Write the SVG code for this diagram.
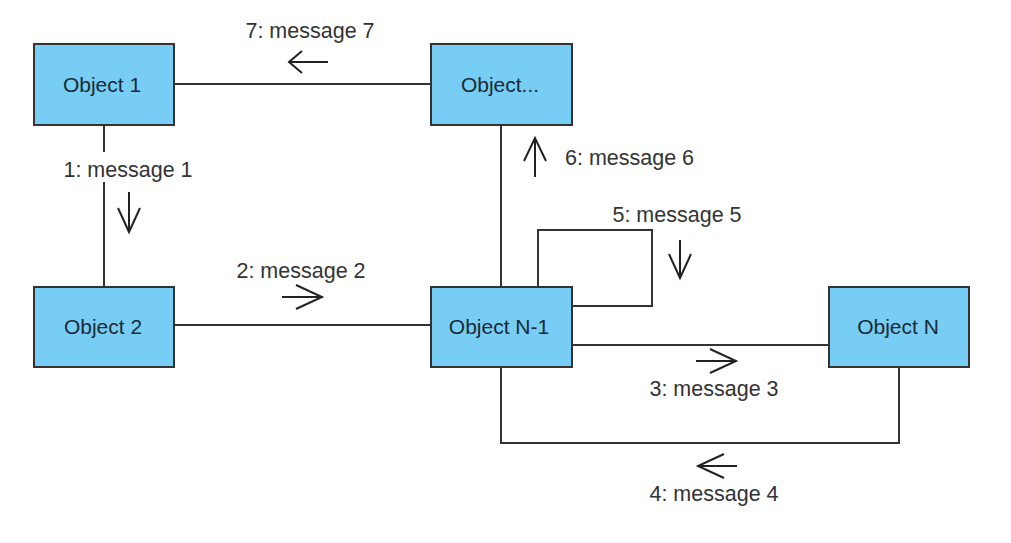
<svg xmlns="http://www.w3.org/2000/svg" width="1011" height="543" viewBox="0 0 1011 543">
<style>
.box{fill:#77CDF3;stroke:#333;stroke-width:2}
.bt{font-family:"Liberation Sans",Arial,sans-serif;font-size:21px;fill:#1a2a36;text-anchor:middle}
.lb{font-family:"Liberation Sans",Arial,sans-serif;font-size:21.5px;fill:#333}
.ln{fill:none;stroke:#333;stroke-width:2}
.ar{fill:none;stroke:#222;stroke-width:2}
</style>
<rect width="1011" height="543" fill="#fff"/>
<g id="connectors">
<path class="ln" d="M174,84 H431"/>
<path class="ln" d="M104,125 V152 M104,182 V287"/>
<path class="ln" d="M174,325 H431"/>
<path class="ln" d="M501,125 V287"/>
<path class="ln" d="M538,287 V230 H652 V306 H572"/>
<path class="ln" d="M572,345 H829"/>
<path class="ln" d="M501,367 V443 H899 V367"/>
<path class="ar" d="M328,62 H289 M302,51 L289,62 L302,73"/>
<path class="ar" d="M129,192 V232 M118,208 L129,232 L140,208"/>
<path class="ar" d="M282,297 H322 M296,285 L322,297 L296,309"/>
<path class="ar" d="M535,177 V138 M524,161 L535,138 L546,161"/>
<path class="ar" d="M680,240 V278 M669,254 L680,278 L691,254"/>
<path class="ar" d="M696,361 H736 M710,349 L736,361 L710,373"/>
<path class="ar" d="M737,466 H698 M724,454 L698,466 L724,478"/>
<text class="lb" x="310" y="38" text-anchor="middle">7: message 7</text>
<text class="lb" x="128" y="177" text-anchor="middle">1: message 1</text>
<text class="lb" x="301" y="278" text-anchor="middle">2: message 2</text>
<text class="lb" x="565" y="165">6: message 6</text>
<text class="lb" x="677" y="222" text-anchor="middle">5: message 5</text>
<text class="lb" x="714" y="396" text-anchor="middle">3: message 3</text>
<text class="lb" x="714" y="501" text-anchor="middle">4: message 4</text>
</g>
<g id="object1"><rect class="box" x="34" y="44" width="140" height="81"/><text class="bt" x="102" y="92">Object 1</text></g>
<g id="objectDots"><rect class="box" x="431" y="44" width="141" height="81"/><text class="bt" x="500" y="92">Object...</text></g>
<g id="object2"><rect class="box" x="34" y="287" width="140" height="80"/><text class="bt" x="103" y="334">Object 2</text></g>
<g id="objectN1"><rect class="box" x="431" y="287" width="141" height="80"/><text class="bt" x="499" y="334">Object N-1</text></g>
<g id="objectN"><rect class="box" x="829" y="287" width="140" height="80"/><text class="bt" x="898" y="334">Object N</text></g>
</svg>
